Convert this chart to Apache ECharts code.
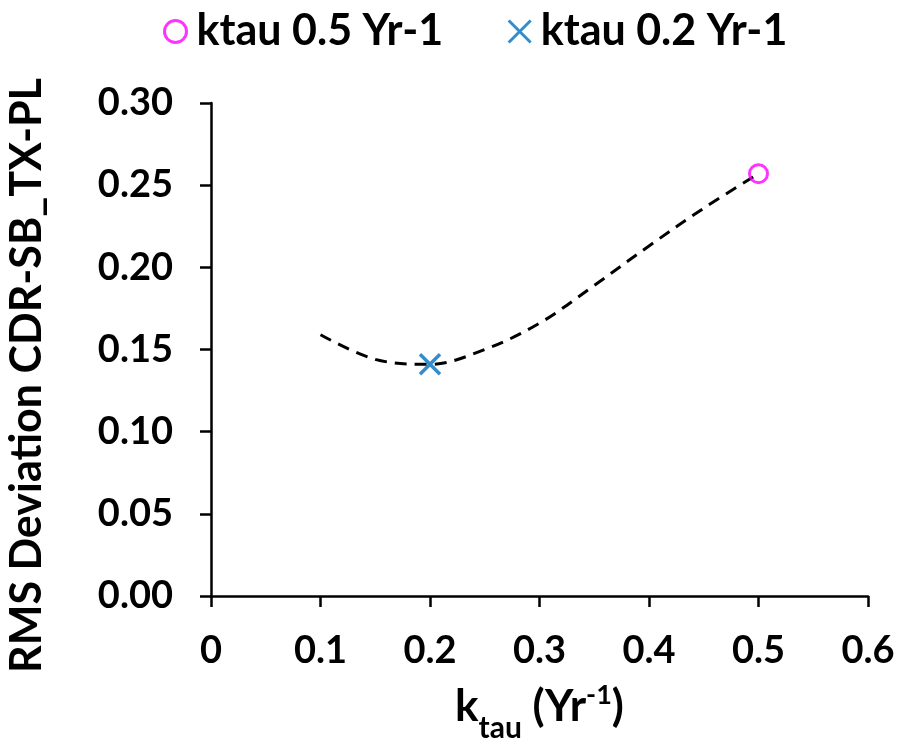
<!DOCTYPE html>
<html>
<head>
<meta charset="utf-8">
<script src="https://cdn.jsdelivr.net/npm/echarts@6/dist/echarts.min.js"></script>
<style>
  html, body { margin: 0; padding: 0; background: #fff; }
  #chart { width: 902px; height: 743px; }
</style>
</head>
<body>
<div id="chart"></div>
<script>
// k_tau values (Yr^-1) and RMS deviation of CDR-SB_TX-PL along the fitted curve
const ktau = [0.10, 0.15, 0.20, 0.25, 0.30, 0.35, 0.40, 0.45, 0.50];
const rmsDev = [0.159, 0.144, 0.141, 0.150, 0.166, 0.189, 0.213, 0.236, 0.257];

// Highlighted settings
const pointHigh = [0.5, 0.257];
const pointLow = [0.2, 0.141];
const legendNames = ['ktau 0.5 Yr-1', 'ktau 0.2 Yr-1'];

const xTicks = { min: 0, max: 0.6, interval: 0.1 };
const yTicks = { min: 0, max: 0.30, interval: 0.05 };

const FONT = 'Lato, "Liberation Sans", sans-serif';
const crossPath = 'path://M0,0L10,10M10,0L0,10';

const chart = echarts.init(document.getElementById('chart'), null, { renderer: 'canvas' });

chart.setOption({
  backgroundColor: '#ffffff',
  animation: false,
  textStyle: { fontFamily: FONT, fontWeight: 'bold', color: '#000' },
  grid: { left: 211, right: 34, top: 103, bottom: 147, containLabel: false, outerBoundsMode: 'none' },
  legend: {
    top: 5,
    left: 158,
    itemGap: 64,
    itemWidth: 22,
    itemHeight: 22,
    textStyle: { fontFamily: FONT, fontWeight: 'bold', fontSize: 43, color: '#000', padding: [0, 0, 0, 5] },
    data: [
      { name: legendNames[0], icon: 'circle',
        itemStyle: { color: '#ffffff', borderColor: '#ff00ff', borderWidth: 3 } },
      { name: legendNames[1], icon: crossPath,
        itemStyle: { color: '#0070c0', borderColor: '#0070c0', borderWidth: 3 } }
    ]
  },
  xAxis: {
    type: 'value',
    min: xTicks.min, max: xTicks.max, interval: xTicks.interval,
    splitLine: { show: false },
    axisLine: { show: true, onZero: false, lineStyle: { color: '#000', width: 2.5 } },
    axisTick: { show: true, inside: false, length: 11, lineStyle: { color: '#000', width: 2.5 } },
    axisLabel: { fontFamily: FONT, fontWeight: 'bold', fontSize: 38, color: '#000', margin: 36 },
    name: '{k|k}{sub|tau}{k| (Yr}{sup|-1}{k|)}',
    nameLocation: 'middle',
    nameGap: 86,
    nameTextStyle: {
      rich: {
        k: { fontFamily: FONT, fontWeight: 'bold', fontSize: 44, color: '#000', lineHeight: 50 },
        sub: { fontFamily: FONT, fontWeight: 'bold', fontSize: 30, color: '#000', lineHeight: 50, verticalAlign: 'bottom', padding: [0, 0, -11, 0] },
        sup: { fontFamily: FONT, fontWeight: 'bold', fontSize: 27, color: '#000', lineHeight: 50, verticalAlign: 'top', padding: [0, 0, 12, 0] }
      }
    }
  },
  yAxis: {
    type: 'value',
    min: yTicks.min, max: yTicks.max, interval: yTicks.interval,
    splitLine: { show: false },
    axisLine: { show: true, onZero: false, lineStyle: { color: '#000', width: 2.5 } },
    axisTick: { show: true, inside: false, length: 11, lineStyle: { color: '#000', width: 2.5 } },
    axisLabel: {
      fontFamily: FONT, fontWeight: 'bold', fontSize: 38, color: '#000', margin: 38,
      formatter: v => v.toFixed(2)
    },
    name: 'RMS Deviation CDR-SB_TX-PL',
    nameLocation: 'middle',
    nameGap: 162,
    nameTextStyle: { fontFamily: FONT, fontWeight: 'bold', fontSize: 43, color: '#000', padding: [0, 52, 0, 0] }
  },
  series: [
    {
      name: 'curve',
      type: 'line',
      data: ktau.map((k, i) => [k, rmsDev[i]]),
      smooth: 0.35,
      showSymbol: false,
      symbol: 'none',
      lineStyle: { color: '#000', width: 3, type: [12, 8] },
      silent: true,
      z: 2
    },
    {
      name: legendNames[0],
      type: 'scatter',
      data: [pointHigh],
      symbol: 'circle',
      symbolSize: 18,
      itemStyle: { color: 'rgba(255,255,255,0)', borderColor: '#ff00ff', borderWidth: 3 },
      z: 3
    },
    {
      name: legendNames[1],
      type: 'scatter',
      data: [pointLow],
      symbol: crossPath,
      symbolSize: 20,
      itemStyle: { color: '#0070c0', borderColor: '#0070c0', borderWidth: 3.5 },
      z: 3
    }
  ]
});
</script>
</body>
</html>
